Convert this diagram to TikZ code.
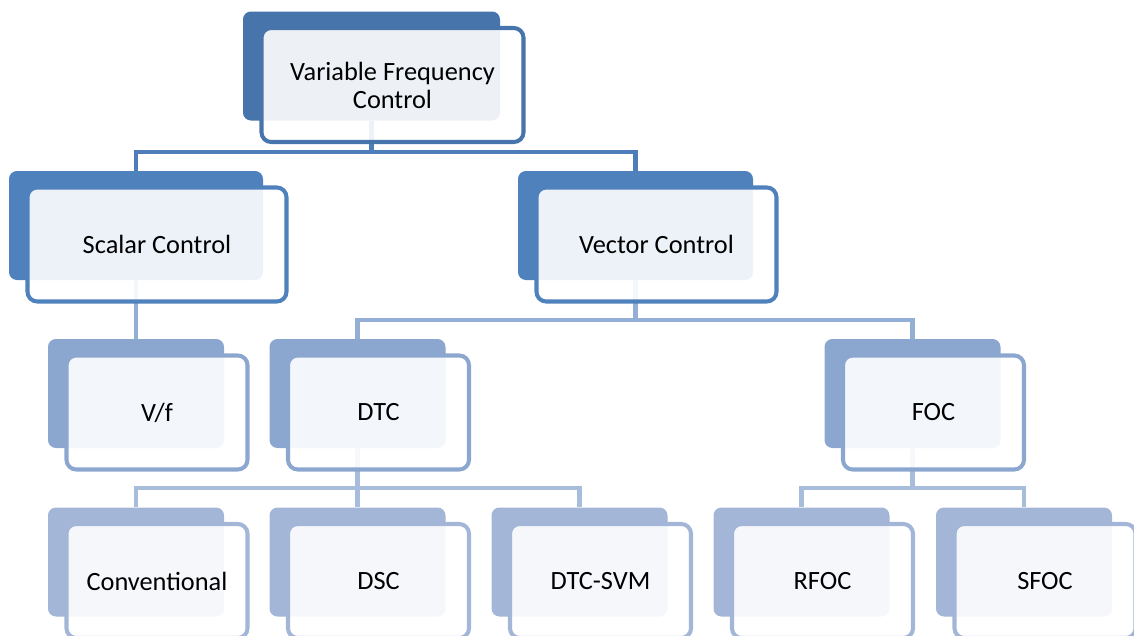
\documentclass[tikz,border=0pt]{standalone}
\usepackage{fontspec}
\setmainfont{Carlito}
\usetikzlibrary{backgrounds}

\definecolor{levelA}{HTML}{4874AC}
\definecolor{levelB}{HTML}{4F81BD}
\definecolor{levelC}{HTML}{8CA7CF}
\definecolor{levelD}{HTML}{A3B6D7}
\definecolor{linkA}{HTML}{4E7EBA}
\definecolor{linkB}{HTML}{94AFD6}
\definecolor{linkC}{HTML}{A8BCDB}

% back tab plus framed front card; #1 name, #2 colour, #3,#4 centre of the tab, #5 width, #6 text
\newcommand{\ctrlbox}[6]{%
  \node[backbox=#2, minimum width=#5*0.02cm] (#1b) at (#3,#4) {};
  \node[frontbox=#2, minimum width=#5*0.02cm+0.1cm] (#1) at ([shift={(21,19)}]#1b.center) {#6};
}

\begin{document}
\begin{tikzpicture}[x=0.02cm, y=-0.02cm,
    backbox/.style={fill=#1, rounded corners=4.5pt, minimum height=109*0.02cm, inner sep=0pt},
    frontbox/.style={draw=#1, line width=2.3pt, fill=white, fill opacity=0.9, text opacity=1,
      rounded corners=5.5pt, minimum height=114*0.02cm, inner sep=0pt, align=center,
      font=\fontsize{15}{16}\selectfont},
    link/.style={draw=#1, line width=2.8pt}]

    \useasboundingbox (0,0) rectangle (1134,636);
    \clip (0,0) rectangle (1134,636);

    % Top level
    \ctrlbox{vfc}{levelA}{371.5}{66}{257}{Variable Frequency\\Control}

    % Scalar and vector branches
    \ctrlbox{sc}{levelB}{136}{225.5}{254}{Scalar Control}
    \ctrlbox{vc}{levelB}{635.5}{225.5}{235}{Vector Control}

    % Third row
    \ctrlbox{vf}{levelC}{136}{393.5}{176}{V/f}
    \ctrlbox{dtc}{levelC}{357.5}{393.5}{176}{DTC}
    \ctrlbox{foc}{levelC}{912.5}{393.5}{176}{FOC}

    % Bottom row
    \ctrlbox{conv}{levelD}{136}{562}{176}{Conventional}
    \ctrlbox{dsc}{levelD}{357.5}{562}{176}{DSC}
    \ctrlbox{svm}{levelD}{579.5}{562}{176}{DTC-SVM}
    \ctrlbox{rfoc}{levelD}{801.5}{562}{176}{RFOC}
    \ctrlbox{sfoc}{levelD}{1024}{562}{176}{SFOC}

    % Connectors sit behind the cards
    \begin{scope}[on background layer]
        \draw[link=linkA] (vfcb.south) -- (vfcb.south |- 0,152);
        \draw[link=linkA] (scb.north) |- (vcb.north |- 0,152) -- (vcb.north);

        \draw[link=linkB] (scb.south) -- (vfb.north);
        \draw[link=linkB] (vcb.south) -- (vcb.south |- 0,320);
        \draw[link=linkB] (dtcb.north) |- (focb.north |- 0,320) -- (focb.north);

        \draw[link=linkC] (dtcb.south) -- (dscb.north);
        \draw[link=linkC] (convb.north) |- (svmb.north |- 0,488) -- (svmb.north);
        \draw[link=linkC] (focb.south) -- (focb.south |- 0,488);
        \draw[link=linkC] (rfocb.north) |- (sfocb.north |- 0,488) -- (sfocb.north);
    \end{scope}

\end{tikzpicture}
\end{document}
